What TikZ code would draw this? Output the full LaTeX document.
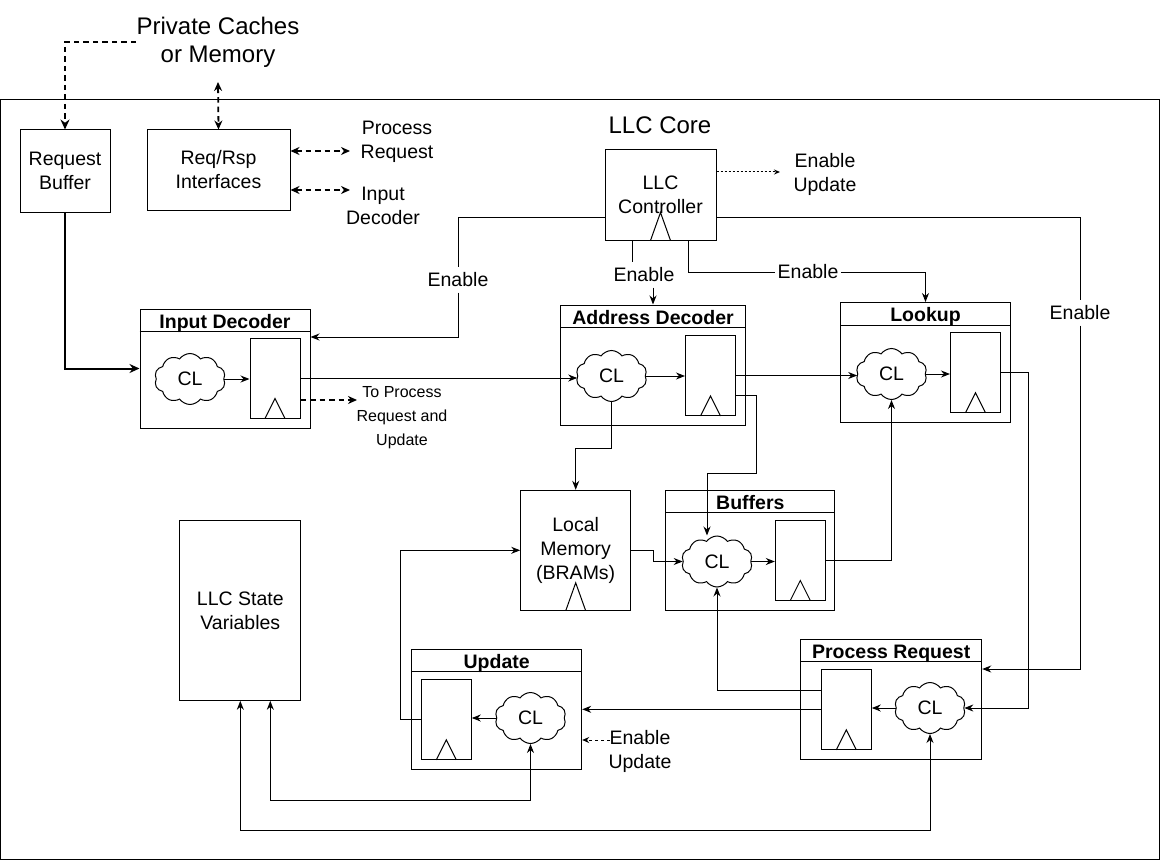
\documentclass[tikz,border=0pt]{standalone}
\usepackage{fontspec}
\setmainfont{Liberation Sans}
\usetikzlibrary{arrows.meta,shapes.symbols,calc}
\newcommand\bodyfs{\fontsize{19.5}{24}\selectfont}
\newcommand\bigfs{\fontsize{24}{28}\selectfont}
\newcommand\smallfs{\fontsize{16}{24}\selectfont}
% a pipeline stage: framed block with a header strip holding its bold title
\newcommand\pipestage[5]{%
  \node[unit, minimum width=#3pt, minimum height=#4pt] (#1) at (#2) {};
  \draw ([yshift=-23pt]#1.north west) -- ([yshift=-23pt]#1.north east);
  \node[title, anchor=base] (#1-t) at ([yshift=-19.5pt]#1.north) {#5};
}
% clock mark at the bottom edge of a clocked element
\newcommand\clk[2]{%
  \draw ([xshift=-10pt]#1.south) -- ([yshift=#2pt]#1.south) -- ([xshift=10pt]#1.south);
}
\begin{document}
\begin{tikzpicture}[x=1pt,y=-1pt,
  line width=1pt,
  >={Stealth[length=9pt,width=7pt]},
  every node/.style={font=\bodyfs, align=center},
  box/.style={draw, rectangle, inner sep=0pt},
  unit/.style={draw, rectangle, inner sep=0pt},
  reg/.style={draw, rectangle, inner sep=0pt, minimum width=50pt, minimum height=80pt},
  logic/.style={draw, cloud, cloud puffs=10, cloud puff arc=110, aspect=1.4,
    inner sep=0pt, minimum width=71pt, minimum height=51pt},
  lbl/.style={inner xsep=2pt, inner ysep=5pt},
  title/.style={font=\bodyfs\bfseries, inner sep=0pt},
  txt/.style={inner sep=0pt},
  ext/.style={dash pattern=on 5.5pt off 4pt, line width=1.8pt},
  bus/.style={ext, {Stealth[length=9pt,width=8pt]}-{Stealth[length=9pt,width=8pt]}},
  hint/.style={dash pattern=on 2pt off 2pt, line width=1pt, -{Stealth[length=6pt,width=5pt]}},
  soft/.style={dash pattern=on 3pt off 3pt, line width=1pt, -{Stealth[length=7pt,width=6pt]}},
]
\useasboundingbox (0,0) rectangle (1161,861);

% LLC core frame
\draw (0.5,100) rectangle (1159.5,859.5);
\node[font=\bigfs] (core) at (660,125) {LLC Core};

% external side
\node[font=\bigfs, txt] (pcm) at (218,42) {Private Caches\\or Memory};
\node[box, minimum width=90pt, minimum height=82pt] (rb) at (65,171) {Request\\Buffer};
\node[box, minimum width=143pt, minimum height=80pt] (rr) at (218.5,170) {Req/Rsp\\Interfaces};
\node[txt] (prq) at (397,142) {Process\\Request};
\node[txt] (idq) at (383,206) {Input\\Decoder};
\coordinate (pcmP) at (218,82);
\coordinate (prqP) at (350,151);
\coordinate (idqP) at (350,190);

% controller
\node[box, minimum width=111pt, minimum height=90pt] (ctrl) at (660.5,195) {LLC\\Controller};
\clk{ctrl}{28}
\node (eu) at (825,174) {Enable\\Update};
\coordinate (euP) at (780,172);

% pipeline stages
\pipestage{id}{225,368.5}{170}{119}{Input Decoder}
\node[logic] (idcl) at (190,379) {CL};
\node[reg] (idr) at (275,378) {};
\clk{idr}{20}
\node[font=\smallfs, txt] (tp) at (402,418) {To Process\\Request and\\Update};
\coordinate (tpP) at (357,400);

\pipestage{ad}{653,365}{185}{120}{Address Decoder}
\node[logic] (adcl) at (611.5,376) {CL};
\node[reg] (adr) at (710.5,375.5) {};
\clk{adr}{20}

\pipestage{lk}{925.5,362.5}{170}{120}{Lookup}
\node[logic] (lkcl) at (891.5,374) {CL};
\node[reg] (lkr) at (975.5,372.3) {};
\clk{lkr}{20}

\node[box, minimum width=110pt, minimum height=120pt] (lm) at (575.7,550.3) {Local\\Memory\\(BRAMs)};
\clk{lm}{28}

\pipestage{bf}{750.3,550.3}{169}{120}{Buffers}
\node[logic] (bfcl) at (717,561.5) {CL};
\node[reg] (bfr) at (800.3,560) {};
\clk{bfr}{20}

\pipestage{up}{496.7,709}{170}{120}{Update}
\node[reg] (upr) at (446.3,719.3) {};
\clk{upr}{20}
\node[logic] (upcl) at (530.5,718) {CL};
\node (eu2) at (640,751) {Enable\\Update};
\coordinate (euQ) at (610,740);

\pipestage{pr}{891.2,699.2}{181}{120}{Process Request}
\node[reg] (prr) at (846.3,709.3) {};
\clk{prr}{20}
\node[logic] (prcl) at (930,708) {CL};

\node[box, minimum width=121pt, minimum height=180pt] (sv) at (240.3,610.3) {LLC State\\Variables};

% enable labels
\node[lbl] (enL) at (458,280) {Enable};
\node[lbl] (enAd) at (644,275) {Enable};
\node[lbl] (enLk) at (808,272) {Enable};
\node[lbl] (enR) at (1080,313) {Enable};

% external links
\draw[ext, -{Stealth[length=10pt,width=9pt]}] (pcm.west) -| (rb.north);
\draw[bus] (pcmP) -- (rr.north);
\draw[bus] ([yshift=19pt]rr.east) -- (prqP);
\draw[bus] ([yshift=-20pt]rr.east) -- (idqP);
\draw[->, line width=2pt, >={Stealth[length=10pt,width=9pt]}] (rb.south) |- (id.west);

% controller enables
\draw[hint] ([yshift=23pt]ctrl.east) -- (euP);
\draw[->] ([yshift=-22pt]ctrl.west) -| (enL) |- ([yshift=31.5pt]id.east);
\draw[->] ([yshift=-22pt]ctrl.east) -| (enR) |- ([yshift=30.2pt]pr.east);
\draw[->] ([xshift=27.5pt]ctrl.south) |- (enLk) -| (lk.north);
\draw ([xshift=-28pt]ctrl.south) -- ([xshift=-28pt]ctrl.south |- enAd.north);
\draw[->] (enAd.south -| ad.north) -- (ad.north);

% data path
\draw[->] (idcl.east) -- (idcl.east -| idr.west);
\draw[->] (idr.east) -- (idr.east -| adcl.west);
\draw[ext, -{Stealth[length=9pt,width=8pt]}] ([yshift=-22pt]idr.east) -- (tpP);
\draw[->] (adcl.east) -- (adcl.east -| adr.west);
\draw[->] (adr.east) -- (adr.east -| lkcl.west);
\draw[->] (lkcl.east) -- (lkcl.east -| lkr.west);
\draw[->] (lkr.east) -| ([xshift=64pt]prcl.east) -- (prcl.east);
\draw[->] ([yshift=-19.5pt]adr.east) -- ++(20,0) -- ++(0,78) -| ([xshift=-10pt]bfcl.north);
\draw[->] (adcl.south) -- ++(0,46) -| (lm.north);
\draw[->] (lm.east) -- ++(22,0) |- (bfcl.west);
\draw[->] (bfcl.east) -- (bfcl.east -| bfr.west);
\draw[->] (bfr.east) -| (lkcl.south);
\draw[->] (prcl.west) -- (prcl.west -| prr.east);
\draw[->] ([yshift=19.3pt]prr.west) -| (bfcl.south);
\draw[->] (prr.west) -- (prr.west -| up.east);
\draw[->] (upcl.west) -- (upcl.west -| upr.east);
\draw[->] (upr.west) -- ++(-20,0) |- (lm.west);
\draw[soft] (euQ) -- (euQ -| up.east);

% state variable access
\draw[<->] ([xshift=30pt]sv.south) -- ++(0,100) -| (upcl.south);
\draw[<->] (sv.south) -- ++(0,130) -| (prcl.south);
\end{tikzpicture}
\end{document}
